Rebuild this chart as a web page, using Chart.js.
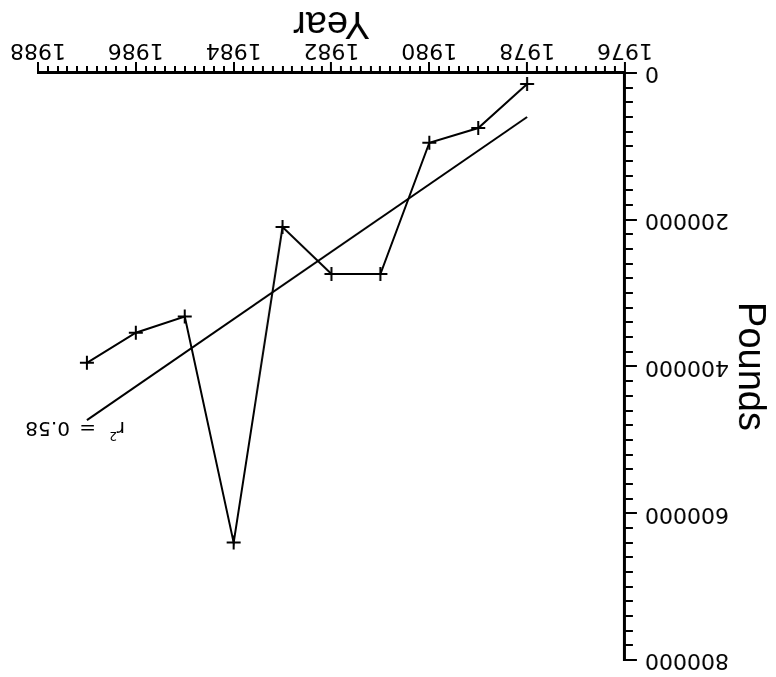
<!doctype html>
<html>
<head>
    <meta charset="UTF-8"/>
    <title>Pounds by year</title>
    <style type="text/css">
        body {
            margin: 0;
            background: #fff;
        }
        .chartBox {
            width: 776px;
            height: 677px;
            transform: rotate(180deg);
        }
    </style>
</head>
<body>
    <div class="chartBox">
        <canvas id="myChart" width="776" height="677"></canvas>
    </div>

    <script src="https://cdn.jsdelivr.net/npm/chart.js"></script>

    <script>
        // yearly totals
        const years = [1978, 1979, 1980, 1981, 1982, 1983, 1984, 1985, 1986, 1987];
        const pounds = [15000, 75000, 95000, 274000, 274000, 210000, 640000, 332000, 354000, 395000];

        // ends of the fitted line
        const fitYears = [1978, 1987];
        const fitPounds = [60000, 473000];
        const fitLabel = ['r', '2', '=', '0.58'];

        // axis ticks
        const yearTicks = [1976, 1978, 1980, 1982, 1984, 1986, 1988];
        const poundTicks = [0, 200000, 400000, 600000, 800000];
        const yearMinorStep = 0.2;
        const poundMinorStep = 20000;

        const tickFont = { family: 'DejaVu Sans', size: 22 };
        const titleFont = { family: 'Liberation Sans', size: 38 };

        // small ticks every step, long ones on the labelled values
        const tickMarks = {
            id: 'tickMarks',
            afterDraw(chart) {
                const ctx = chart.ctx;
                const xs = chart.scales.x;
                const ys = chart.scales.y;
                ctx.save();
                ctx.strokeStyle = '#000';
                ctx.lineWidth = 2;
                ctx.beginPath();
                const nx = Math.round((xs.max - xs.min) / yearMinorStep);
                for (let i = 0; i <= nx; i++) {
                    const v = xs.min + i * yearMinorStep;
                    const px = Math.round(xs.getPixelForValue(v));
                    const len = i % 10 === 0 ? 11 : 7;
                    ctx.moveTo(px, xs.top);
                    ctx.lineTo(px, xs.top + len);
                }
                const ny = Math.round((ys.max - ys.min) / poundMinorStep);
                for (let i = 0; i <= ny; i++) {
                    const v = ys.min + i * poundMinorStep;
                    const py = Math.round(ys.getPixelForValue(v));
                    const len = i % 10 === 0 ? 12 : 8;
                    ctx.moveTo(ys.right, py);
                    ctx.lineTo(ys.right - len, py);
                }
                ctx.stroke();
                ctx.restore();
            }
        };

        // r² note at the end of the fitted line
        const fitNote = {
            id: 'fitNote',
            afterDatasetsDraw(chart) {
                const ctx = chart.ctx;
                const xs = chart.scales.x;
                const ys = chart.scales.y;
                const x0 = xs.getPixelForValue(fitYears[1]) - 6;
                const y0 = ys.getPixelForValue(fitPounds[1]) - 7;
                ctx.save();
                ctx.fillStyle = '#000';
                ctx.textBaseline = 'middle';
                ctx.font = '20px "DejaVu Sans"';
                ctx.fillText(fitLabel[0], x0 - 32, y0);
                ctx.fillText(fitLabel[2], x0 - 3, y0);
                ctx.fillText(fitLabel[3], x0 + 23, y0);
                ctx.font = '12px "DejaVu Sans"';
                ctx.fillText(fitLabel[1], x0 - 24, y0 - 8);
                ctx.restore();
            }
        };

        const data = {
            datasets: [
                {
                    label: 'Pounds',
                    data: years.map((yr, i) => ({ x: yr, y: pounds[i] })),
                    showLine: true,
                    borderColor: '#000',
                    backgroundColor: '#000',
                    borderWidth: 2,
                    pointStyle: 'cross',
                    pointRadius: 7,
                    pointBorderWidth: 2,
                    tension: 0
                },
                {
                    label: 'Fit',
                    data: fitYears.map((yr, i) => ({ x: yr, y: fitPounds[i] })),
                    showLine: true,
                    borderColor: '#000',
                    borderWidth: 2,
                    pointRadius: 0,
                    tension: 0
                }
            ]
        };

        const config = {
            type: 'scatter',
            data: data,
            options: {
                responsive: false,
                animation: false,
                layout: {
                    padding: { left: 0, right: 37, top: 17, bottom: 0 }
                },
                plugins: {
                    legend: { display: false },
                    tooltip: { enabled: false }
                },
                scales: {
                    x: {
                        type: 'linear',
                        min: 1976,
                        max: 1988,
                        afterBuildTicks: (scale) => {
                            scale.ticks = yearTicks.map(v => ({ value: v }));
                        },
                        afterFit: (scale) => {
                            scale.height = 73;
                        },
                        grid: { display: false, drawTicks: false },
                        border: { display: true, color: '#000', width: 3 },
                        ticks: {
                            color: '#000',
                            font: tickFont,
                            padding: 10,
                            maxRotation: 0,
                            callback: (v) => String(v)
                        },
                        title: {
                            display: true,
                            text: 'Year',
                            color: '#000',
                            font: titleFont,
                            padding: { top: 0, bottom: 0 }
                        }
                    },
                    y: {
                        type: 'linear',
                        min: 0,
                        max: 800000,
                        afterBuildTicks: (scale) => {
                            scale.ticks = poundTicks.map(v => ({ value: v }));
                        },
                        afterFit: (scale) => {
                            scale.width = 151;
                            scale.paddingTop = 0;
                            scale.paddingBottom = 0;
                        },
                        grid: { display: false, drawTicks: false },
                        border: { display: true, color: '#000', width: 3 },
                        ticks: {
                            color: '#000',
                            font: tickFont,
                            padding: 20,
                            callback: (v) => String(v)
                        },
                        title: {
                            display: true,
                            text: 'Pounds',
                            color: '#000',
                            font: titleFont,
                            padding: { top: 4, bottom: 0 }
                        }
                    }
                }
            },
            plugins: [tickMarks, fitNote]
        };

        const myChart = new Chart(
            document.getElementById('myChart'),
            config
        );
    </script>
</body>
</html>
